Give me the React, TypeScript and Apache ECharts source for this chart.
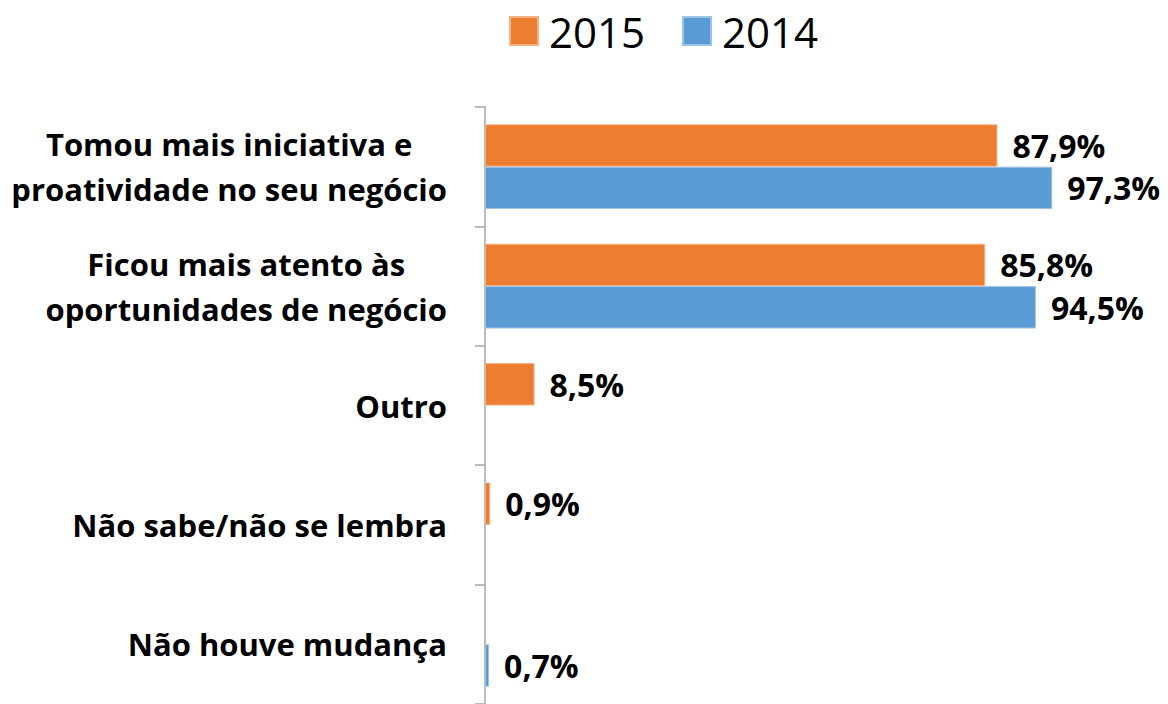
import React, { useEffect, useRef } from "react";
import * as echarts from "echarts";

const categories: string[] = [
  "Tomou mais iniciativa e\nproatividade no seu negócio",
  "Ficou mais atento às\noportunidades de negócio",
  "Outro",
  "Não sabe/não se lembra",
  "Não houve mudança",
];
const values2015: (number | null)[] = [87.9, 85.8, 8.5, 0.9, null];
const values2014: (number | null)[] = [97.3, 94.5, null, null, 0.7];
const seriesNames: string[] = ["2015", "2014"];
const FONT = "'Open Sans', sans-serif";

export default function App() {
  const ref = useRef<HTMLDivElement>(null);
  useEffect(() => {
    if (!ref.current) return;
    const chart = echarts.init(ref.current, null, { renderer: "svg" });
    const labelCfg = {
      show: true,
      position: "right" as const,
      distance: 15,
      color: "#000",
      fontFamily: FONT,
      fontWeight: "bold" as const,
      fontSize: 32,
      formatter: (p: any) =>
        p.value == null ? "" : p.value.toFixed(1).replace(".", ",") + "%",
    };
    chart.setOption({
      animation: false,
      legend: {
        top: 5,
        left: 504,
        itemWidth: 28,
        itemHeight: 28,
        itemGap: 37,
        icon: "rect",
        textStyle: { fontFamily: FONT, fontSize: 42, color: "#000", padding: [0, 0, 0, 6] },
        data: seriesNames,
      },
      grid: { left: 485, top: 107, width: 583, height: 600, containLabel: false },
      xAxis: {
        type: "value",
        min: 0,
        max: 100,
        show: false,
      },
      yAxis: {
        type: "category",
        inverse: true,
        data: categories,
        axisLine: { show: true, lineStyle: { color: "#A6A6A6", width: 1.5 } },
        axisTick: { show: true, length: 10, lineStyle: { color: "#A6A6A6", width: 1.5 } },
        axisLabel: {
          margin: 38,
          align: "right",
          formatter: (v: string) =>
            v
              .split("\n")
              .map((line) => "{c|" + line + "}")
              .join("\n"),
          rich: {
            c: {
              align: "center",
              color: "#000",
              fontFamily: FONT,
              fontWeight: "bold",
              fontSize: 31,
              lineHeight: 45,
            },
          },
        },
        splitLine: { show: false },
      },
      series: [
        {
          name: seriesNames[0],
          type: "bar",
          data: values2015,
          barGap: "0%",
          barCategoryGap: "29%",
          itemStyle: { color: "#ED7D31", borderColor: "#F4B183", borderWidth: 1 },
          label: labelCfg,
        },
        {
          name: seriesNames[1],
          type: "bar",
          data: values2014,
          barGap: "0%",
          barCategoryGap: "29%",
          itemStyle: { color: "#5B9BD5", borderColor: "#9DC3E6", borderWidth: 1 },
          label: labelCfg,
        },
      ],
    });
    return () => chart.dispose();
  }, []);
  return (
    <div
      ref={ref}
      style={{ position: "fixed", left: 0, top: 0, width: 1168, height: 704, background: "#fff" }}
    />
  );
}
